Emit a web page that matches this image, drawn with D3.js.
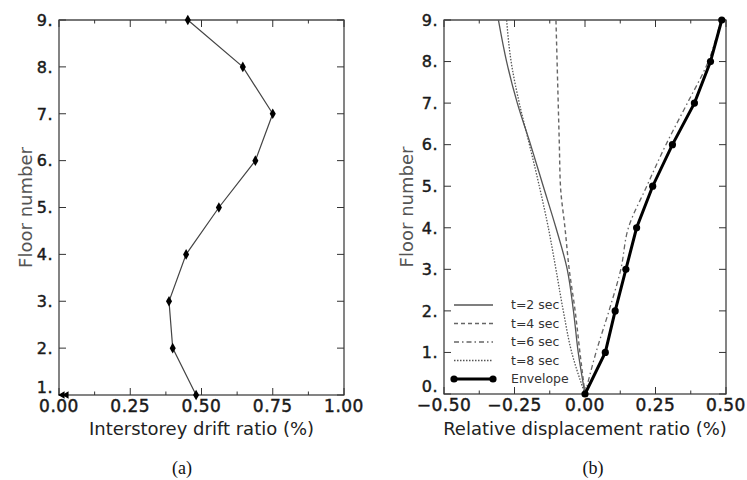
<!DOCTYPE html>
<html>
<head>
<meta charset="utf-8">
<script src="https://cdn.jsdelivr.net/npm/d3@7"></script>
<style>
  html, body { margin: 0; padding: 0; background: #fff; }
  svg { display: block; }
  text { font-family: "DejaVu Sans", Verdana, sans-serif; }
</style>
</head>
<body>
<svg id="chart" width="747" height="480"></svg>
<script>
// ---------- Data ----------
// Panel (a): interstorey drift ratio per floor
const driftFloors = [9, 8, 7, 6, 5, 4, 3, 2, 1];
const driftValues = [0.452, 0.645, 0.750, 0.689, 0.561, 0.446, 0.386, 0.399, 0.481];
const groundMarkers = [0.012, 0.026];

// Panel (b): relative displacement ratio per floor
const dispFloors = [0, 1, 2, 3, 4, 5, 6, 7, 8, 9];
const t2Values  = [0, -0.024, -0.041, -0.063, -0.103, -0.148, -0.193, -0.240, -0.278, -0.307];
const t4Values  = [0, -0.018, -0.035, -0.056, -0.071, -0.087, -0.091, -0.095, -0.099, -0.103];
const t6Values  = [0, 0.039, 0.085, 0.127, 0.154, 0.219, 0.287, 0.363, 0.437, 0.482];
const t8Values  = [0, -0.047, -0.077, -0.103, -0.130, -0.162, -0.197, -0.233, -0.262, -0.278];
const envValues = [0, 0.072, 0.107, 0.145, 0.183, 0.240, 0.310, 0.388, 0.445, 0.485];

const legendLabels = ["t=2 sec", "t=4 sec", "t=6 sec", "t=8 sec", "Envelope"];

const xTicksA = [0, 0.25, 0.5, 0.75, 1.0];
const yTicksA = [1, 2, 3, 4, 5, 6, 7, 8, 9];
const xTicksB = [-0.5, -0.25, 0, 0.25, 0.5];
const yTicksB = [0, 1, 2, 3, 4, 5, 6, 7, 8, 9];

const svg = d3.select("#chart");

function drawFrame(g, x, y, xTicks, yTicks, xMinor, xTitle, yTitle, caption, yTitleX, captionX) {
  const [x0, x1] = x.range();
  const [y0, y1] = y.range(); // y0 bottom, y1 top
  const fr = g.append("g");
  fr.append("rect")
    .attr("x", x0).attr("y", y1)
    .attr("width", x1 - x0).attr("height", y0 - y1)
    .attr("fill", "none").attr("stroke", "#333").attr("stroke-width", 1.2);
  fr.append("line").attr("x1", x0).attr("x2", x1).attr("y1", y1).attr("y2", y1)
    .attr("stroke", "#777").attr("stroke-width", 2);
  xTicks.forEach(v => {
    fr.append("line").attr("x1", x(v)).attr("x2", x(v)).attr("y1", y0).attr("y2", y0 - 7)
      .attr("stroke", "#333").attr("stroke-width", 1);
    fr.append("line").attr("x1", x(v)).attr("x2", x(v)).attr("y1", y1).attr("y2", y1 + 7)
      .attr("stroke", "#333").attr("stroke-width", 1);
  });
  xMinor.forEach(v => {
    fr.append("line").attr("x1", x(v)).attr("x2", x(v)).attr("y1", y0).attr("y2", y0 - 3.5)
      .attr("stroke", "#333").attr("stroke-width", 1);
    fr.append("line").attr("x1", x(v)).attr("x2", x(v)).attr("y1", y1).attr("y2", y1 + 3.5)
      .attr("stroke", "#333").attr("stroke-width", 1);
  });
  yTicks.forEach(v => {
    fr.append("line").attr("x1", x1).attr("x2", x1 - 7).attr("y1", y(v)).attr("y2", y(v))
      .attr("stroke", "#333").attr("stroke-width", 1);
    fr.append("line").attr("x1", x0).attr("x2", x0 + 7).attr("y1", y(v)).attr("y2", y(v))
      .attr("stroke", "#333").attr("stroke-width", 1);
  });
  xTicks.forEach(v => {
    fr.append("text").attr("x", x(v)).attr("y", y0 + 17)
      .attr("text-anchor", "middle").attr("font-size", 17).attr("letter-spacing", 0.5)
      .attr("fill", "#1a1a1a").attr("stroke", "#1a1a1a").attr("stroke-width", 0.45)
      .text(d3.format(".2f")(v));
  });
  const yMin = y.domain()[0];
  yTicks.forEach(v => {
    fr.append("text").attr("x", x0 - 6).attr("y", v === yMin ? y0 - 2 : y(v))
      .attr("dy", v === yMin ? "0" : "0.36em")
      .attr("text-anchor", "end").attr("font-size", 16).attr("letter-spacing", 0.5)
      .attr("fill", "#1a1a1a").attr("stroke", "#1a1a1a").attr("stroke-width", 0.45)
      .text(v + ".");
  });
  fr.append("text").attr("x", (x0 + x1) / 2).attr("y", 435)
    .attr("text-anchor", "middle").attr("font-size", 18).attr("fill", "#222")
    .text(xTitle);
  fr.append("text")
    .attr("transform", `translate(${yTitleX},${(y0 + y1) / 2}) rotate(-90)`)
    .attr("text-anchor", "middle").attr("font-size", 18).attr("fill", "#555")
    .text(yTitle);
  fr.append("text").attr("x", captionX).attr("y", 474)
    .attr("text-anchor", "middle").attr("font-size", 18)
    .style("font-family", "'Liberation Serif', 'Times New Roman', serif").attr("fill", "#111")
    .text(caption);
}

// ---------- Panel (a) ----------
const xA = d3.scaleLinear().domain([0, 1]).range([59, 344]);
const yA = d3.scaleLinear().domain([1, 9]).range([395, 20]);
const gA = svg.append("g");
drawFrame(gA, xA, yA, xTicksA, yTicksA, [0.125, 0.375, 0.625, 0.875],
  "Interstorey drift ratio (%)", "Floor number", "(a)", 32, 182);

const driftData = driftFloors.map((f, i) => ({ f, v: driftValues[i] }));
gA.append("path").datum(driftData)
  .attr("fill", "none").attr("stroke", "#444").attr("stroke-width", 1.2)
  .attr("d", d3.line().x(d => xA(d.v)).y(d => yA(d.f)));
gA.selectAll(".mk").data(driftData).enter().append("path")
  .attr("transform", d => `translate(${xA(d.v)},${yA(d.f)})`)
  .attr("d", d3.symbol().type(d3.symbolDiamond).size(32))
  .attr("fill", "#000");
gA.selectAll(".gm").data(groundMarkers).enter().append("path")
  .attr("transform", d => `translate(${xA(d)},${yA(1)}) rotate(-90)`)
  .attr("d", d3.symbol().type(d3.symbolTriangle).size(24))
  .attr("fill", "#000");

// ---------- Panel (b) ----------
const xB = d3.scaleLinear().domain([-0.5, 0.5]).range([444, 726]);
const yB = d3.scaleLinear().domain([0, 9]).range([394, 20]);
const gB = svg.append("g");
drawFrame(gB, xB, yB, xTicksB, yTicksB, [-0.375, -0.125, 0.125, 0.375],
  "Relative displacement ratio (%)", "Floor number", "(b)", 413, 593);

const styles = [
  { vals: t2Values, stroke: "#555", width: 1.3, dash: null },
  { vals: t4Values, stroke: "#666", width: 1.4, dash: "4,3" },
  { vals: t6Values, stroke: "#666", width: 1.3, dash: "5,3,1.5,3" },
  { vals: t8Values, stroke: "#555", width: 1.3, dash: "1.5,1.5" },
];
const lineB = d3.line().x(d => xB(d.v)).y(d => yB(d.f)).curve(d3.curveMonotoneY);
styles.forEach(s => {
  const data = dispFloors.map((f, i) => ({ f, v: s.vals[i] }));
  gB.append("path").datum(data)
    .attr("fill", "none").attr("stroke", s.stroke).attr("stroke-width", s.width)
    .attr("stroke-dasharray", s.dash)
    .attr("d", lineB);
});
const envData = dispFloors.map((f, i) => ({ f, v: envValues[i] }));
gB.append("path").datum(envData)
  .attr("fill", "none").attr("stroke", "#000").attr("stroke-width", 3)
  .attr("d", d3.line().x(d => xB(d.v)).y(d => yB(d.f)));
gB.selectAll(".em").data(envData).enter().append("circle")
  .attr("cx", d => xB(d.v)).attr("cy", d => yB(d.f)).attr("r", 3.6).attr("fill", "#000");

// Legend
const legX0 = 454, legX1 = 493, legTextX = 511, legY0 = 305, legDy = 18.5;
const legStyles = styles.concat([{ stroke: "#000", width: 3, dash: null, env: true }]);
legendLabels.forEach((lab, i) => {
  const s = legStyles[i];
  const ly = legY0 + i * legDy;
  gB.append("line").attr("x1", legX0).attr("x2", legX1).attr("y1", ly).attr("y2", ly)
    .attr("stroke", s.stroke).attr("stroke-width", s.width).attr("stroke-dasharray", s.dash);
  if (s.env) {
    [legX0, legX1].forEach(px => gB.append("circle").attr("cx", px).attr("cy", ly).attr("r", 3.6).attr("fill", "#000"));
  }
  gB.append("text").attr("x", legTextX).attr("y", ly).attr("dy", "0.35em")
    .attr("font-size", 12.5).attr("fill", "#333").text(lab);
});
</script>
</body>
</html>
